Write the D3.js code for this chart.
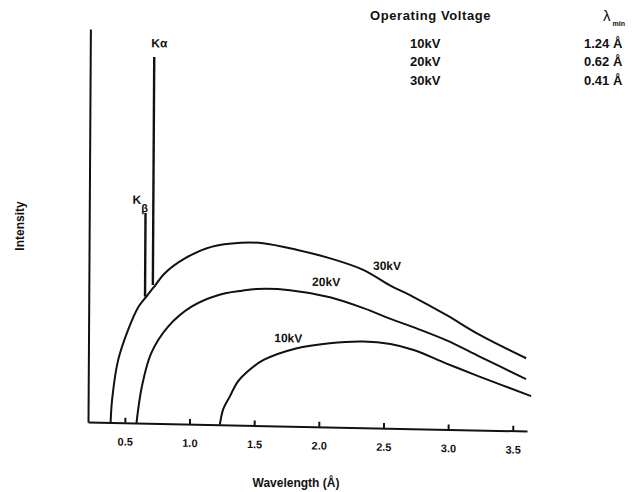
<!DOCTYPE html>
<html>
<head>
<meta charset="utf-8">
<script src="https://cdn.jsdelivr.net/npm/d3@7"></script>
<style>
  body { margin: 0; background: #fff; }
  svg { display: block; font-family: "Liberation Sans", Arial, sans-serif; font-weight: bold; }
  .curve { fill: none; stroke: #111; stroke-width: 2; }
  .peak { stroke: #111; stroke-width: 2.4; }
  .axis path, .axis line { stroke: #111; stroke-width: 2; }
  .axis text { font-size: 11px; font-weight: bold; fill: #111; font-family: "Liberation Sans", Arial, sans-serif; }
  text { fill: #111; }
</style>
</head>
<body>
<div id="chart"></div>
<script>
// continuous spectra: [wavelength (A), intensity (arb.)]
const kv30 = [[0.39, 0], [0.40, 5.7], [0.445, 15.9], [0.52, 23.6], [0.60, 29.6], [0.66, 32.2], [0.73, 35.2],
  [0.80, 38.2], [0.96, 42.2], [1.16, 45.2], [1.39, 46.4], [1.56, 46.4], [1.82, 44.9], [2.08, 42.9],
  [2.34, 40.1], [2.54, 36.4], [2.72, 33.6], [2.98, 29.1], [3.24, 24.2], [3.60, 18.5]];
const kv20 = [[0.59, 0], [0.63, 9.3], [0.70, 17.8], [0.83, 24.7], [1.01, 29.9], [1.22, 33.0], [1.40, 34.2],
  [1.51, 34.7], [1.77, 34.6], [2.08, 33.0], [2.34, 30.4], [2.55, 27.8], [2.72, 25.9], [2.98, 22.7],
  [3.24, 18.7], [3.60, 13.2]];
const kv10 = [[1.235, 0], [1.26, 4.0], [1.31, 7.2], [1.37, 11.0], [1.44, 13.5], [1.57, 16.7], [1.82, 19.8],
  [2.08, 21.3], [2.34, 21.9], [2.55, 21.4], [2.73, 20.0], [2.98, 16.8], [3.24, 13.6], [3.64, 8.9]];

// curve labels: [text, wavelength, intensity]
const curveLabels = [['30kV', 2.52, 41.3], ['20kV', 2.05, 36.9], ['10kV', 1.76, 22.4]];

// characteristic lines: wavelength, base (on 30kV curve), top
const peakNames = ['K\u03B2', 'K\u03B1'];
const peakLambda = [0.65, 0.71];
const peakBase = [32.2, 35.2];
const peakTop = [53.5, 93.2];

const xTicks = [0.5, 1.0, 1.5, 2.0, 2.5, 3.0, 3.5];

const voltages = ['10kV', '20kV', '30kV'];
const lambdaMin = [1.24, 0.62, 0.41];

const width = 632;
const height = 492;

const svg = d3.select('#chart').append('svg')
  .attr('width', width)
  .attr('height', height);

const x = d3.scaleLinear().domain([0.215, 3.61]).range([88, 527]);
const y = d3.scaleLinear().domain([0, 100]).range([422, 29]);

// the scanned figure is slightly skewed: baseline drops to the right, axis leans right
const plot = svg.append('g')
  .attr('transform', 'matrix(1,0.0205,-0.0061,1,2.57,-1.80)');

plot.append('g')
  .attr('class', 'axis')
  .attr('transform', `translate(0,${y(0)})`)
  .call(d3.axisBottom(x).tickValues(xTicks).tickFormat(d3.format('.1f'))
    .tickSizeInner(-5).tickSizeOuter(0).tickPadding(15));

plot.append('g')
  .attr('class', 'axis')
  .attr('transform', `translate(${x(0.215)},0)`)
  .call(d3.axisLeft(y).tickValues([]).tickSizeOuter(0));

const line = d3.line()
  .x(d => x(d[0]))
  .y(d => y(d[1]))
  .curve(d3.curveCatmullRom.alpha(0.5));

plot.selectAll('path.curve')
  .data([kv30, kv20, kv10])
  .join('path')
  .attr('class', 'curve')
  .attr('d', line);

plot.selectAll('line.peak')
  .data(peakLambda)
  .join('line')
  .attr('class', 'peak')
  .attr('x1', d => x(d))
  .attr('x2', d => x(d))
  .attr('y1', (d, i) => y(peakBase[i]))
  .attr('y2', (d, i) => y(peakTop[i]));

plot.selectAll('text.curve-label')
  .data(curveLabels)
  .join('text')
  .attr('class', 'curve-label')
  .attr('x', d => x(d[1]))
  .attr('y', d => y(d[2]))
  .attr('dy', '0.35em')
  .attr('text-anchor', 'middle')
  .attr('font-size', 12)
  .text(d => d[0]);

// K alpha label above its line
plot.append('text')
  .attr('x', x(peakLambda[1]) + 5)
  .attr('y', y(peakTop[1]) - 14)
  .attr('dy', '0.35em')
  .attr('text-anchor', 'middle')
  .attr('font-size', 12)
  .text(peakNames[1]);

// K beta label: K with subscript beta, left of its line
const kb = plot.append('text')
  .attr('x', x(peakLambda[0]) - 13)
  .attr('y', y(peakTop[0]) - 13)
  .attr('dy', '0.35em')
  .attr('font-size', 12);
kb.append('tspan').text('K');
kb.append('tspan').attr('dy', 8).attr('font-size', 11).text('\u03B2');

svg.append('text')
  .attr('x', 296)
  .attr('y', 483)
  .attr('dy', '0.35em')
  .attr('text-anchor', 'middle')
  .attr('font-size', 12)
  .text('Wavelength (\u00C5)');

svg.append('text')
  .attr('transform', 'translate(20,226) rotate(-90)')
  .attr('dy', '0.35em')
  .attr('text-anchor', 'middle')
  .attr('font-size', 12)
  .text('Intensity');

// table of short wavelength limits, top right
const table = svg.append('g').attr('font-size', 13);

table.append('text')
  .attr('x', 370).attr('y', 15).attr('dy', '0.35em')
  .attr('letter-spacing', 0.6)
  .text('Operating Voltage');

const lm = table.append('text')
  .attr('x', 603).attr('y', 16).attr('dy', '0.35em')
  .attr('font-size', 15).attr('font-weight', 'normal');
lm.append('tspan').text('\u03BB');
lm.append('tspan').attr('dy', 5).attr('dx', 2).attr('font-size', 7).attr('font-weight', 'bold').text('min');

const rowY = [43, 61, 80];

table.selectAll('text.volt')
  .data(voltages)
  .join('text')
  .attr('class', 'volt')
  .attr('x', 410)
  .attr('y', (d, i) => rowY[i])
  .attr('dy', '0.35em')
  .text(d => d);

table.selectAll('text.lmin')
  .data(lambdaMin)
  .join('text')
  .attr('class', 'lmin')
  .attr('x', 584)
  .attr('y', (d, i) => rowY[i])
  .attr('dy', '0.35em')
  .text(d => `${d.toFixed(2)} \u00C5`);
</script>
</body>
</html>
